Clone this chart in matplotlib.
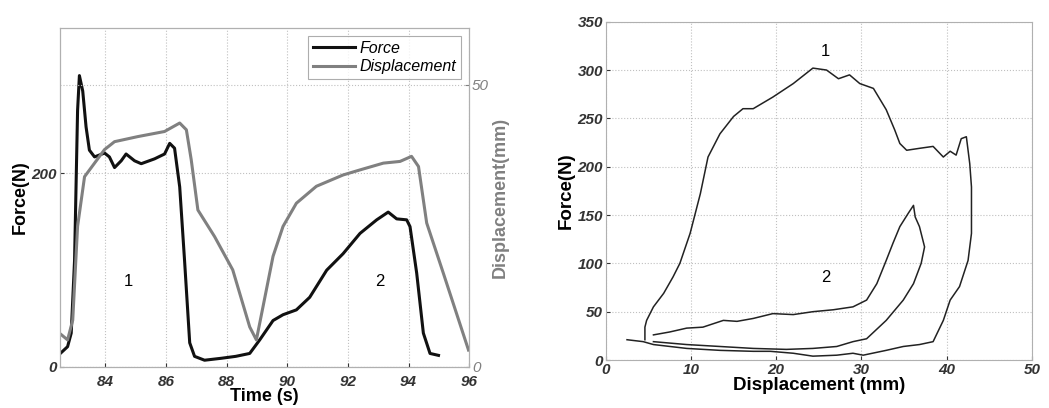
import matplotlib.pyplot as plt

plt.rcParams['font.family'] = ['Liberation Sans', 'DejaVu Sans']

# ---- left panel: force & displacement vs time ----
t_force = [82.51, 82.75, 82.87, 82.98, 83.08, 83.14, 83.25, 83.36, 83.47, 83.64, 83.97,
           84.13, 84.3, 84.52, 84.68, 84.96, 85.18, 85.62, 85.95, 86.12, 86.28,
           86.45, 86.61, 86.78, 86.94, 87.27, 87.82, 88.3, 88.76, 89.09, 89.53,
           89.86, 90.3, 90.74, 91.3, 91.84, 92.4, 92.95, 93.33, 93.61, 93.94, 94.05,
           94.27, 94.49, 94.71, 94.99]
force = [14, 21, 35, 110, 265, 301, 285, 248, 224, 217, 221,
         217, 206, 213, 220, 213, 210, 215, 220, 231, 226,
         186, 110, 25, 11, 7, 9, 11, 14, 28, 48,
         54, 59, 72, 100, 117, 138, 152, 160, 153, 152, 145,
         97, 35, 14, 12]

t_disp = [82.48, 82.75, 82.92, 83.08, 83.31, 83.64, 83.97, 84.3, 85.07, 85.95,
          86.45, 86.67, 86.83, 87.05, 87.6, 88.2, 88.76, 88.98, 89.2, 89.53,
          89.86, 90.3, 90.96, 91.84, 92.4, 93.17, 93.72, 94.1, 94.33, 94.6,
          95.15, 95.98]
disp = [6.0, 4.8, 8.3, 24.9, 33.7, 36.1, 38.5, 39.9, 40.8, 41.7,
        43.2, 42.0, 36.7, 27.8, 23.1, 17.2, 7.1, 4.8, 10.7, 19.6,
        24.9, 29.0, 32.0, 34.0, 34.9, 36.1, 36.4, 37.3, 35.5, 25.5,
        16.6, 3.0]

# ---- right panel: force vs displacement loops ----
d_loop1 = [4.6, 4.6, 4.8, 5.6, 6.8, 7.9, 8.7, 9.9, 11.1, 12.0, 13.4, 15.0, 16.1, 17.3, 19.6,
           22.0, 24.3, 25.9, 27.3, 28.6, 29.8, 31.4, 32.9, 33.9, 34.5, 35.3, 36.8, 38.4,
           39.6, 40.4, 41.1, 41.7, 42.3, 42.7, 42.9, 42.9, 42.5, 41.5, 40.4, 39.6, 38.4,
           36.8, 34.9, 32.9, 30.2, 29.0, 27.1, 24.3, 22.0, 19.3, 17.3, 13.4, 9.5, 5.6,
           4.4, 2.5]
f_loop1 = [21, 34, 41, 55, 69, 86, 100, 131, 172, 210, 234, 252, 260, 260, 272,
           286, 302, 300, 291, 295, 286, 281, 259, 238, 224, 217, 219, 221,
           210, 216, 212, 229, 231, 203, 179, 131, 103, 76, 62, 41, 19,
           16, 14, 10, 5, 7, 5, 4, 7, 9, 9, 10, 12, 16,
           19, 21]

d_loop2 = [5.6, 7.5, 9.5, 11.4, 13.8, 15.4, 17.3, 19.6, 22.0, 24.3, 26.7, 29.0, 30.6,
           31.8, 32.9, 33.7, 34.5, 35.5, 36.1, 36.3, 36.8, 37.4, 37.0, 36.1, 34.9, 32.9,
           30.6, 29.0, 27.1, 24.3, 21.2, 17.3, 13.4, 9.5, 5.6]
f_loop2 = [26, 29, 33, 34, 41, 40, 43, 48, 47, 50, 52, 55, 62,
           79, 103, 121, 138, 152, 160, 148, 138, 117, 100, 79, 62, 41,
           22, 19, 14, 12, 11, 12, 14, 16, 19]

tick_col = '#333333'
spine_col = '#b0b0b0'
grey_line = '#808080'

fig = plt.figure(figsize=(10.49, 4.08), dpi=100)

ax1 = fig.add_axes([0.0572, 0.1005, 0.3900, 0.8305])
ax1.plot(t_force, force, color='#111111', lw=2.2, label='Force')
ax1.plot([], [], color=grey_line, lw=2.2, label='Displacement')
ax1.set_xlim(82.5, 96)
ax1.set_ylim(0, 350)
ax1.set_xticks([84, 86, 88, 90, 92, 94, 96])
ax1.set_yticks([0, 200])
ax1.grid(True, linestyle=':', color='#c0c0c0', lw=0.8)
ax1.set_xlabel('Time (s)', fontsize=13, fontweight='bold', labelpad=-1)
ax1.set_ylabel('Force(N)', fontsize=13, fontweight='bold', labelpad=2)
ax1.text(84.74, 88, '1', fontsize=12, ha='center', va='center')
ax1.text(93.05, 88, '2', fontsize=12, ha='center', va='center')
leg = ax1.legend(loc='upper right', prop={'style': 'italic', 'size': 11.5},
                 fancybox=False, edgecolor='#999999', borderpad=0.3, handlelength=2.6,
                 labelspacing=0.2, handletextpad=0.3, borderaxespad=0.5)
leg.get_frame().set_linewidth(0.8)

ax2 = ax1.twinx()
ax2.plot(t_disp, disp, color=grey_line, lw=2.2)
ax2.set_ylim(0, 60)
ax2.set_yticks([0, 50])
ax2.grid(True, axis='y', linestyle=':', color='#c0c0c0', lw=0.8)
ax2.set_ylabel('Displacement(mm)', fontsize=13, fontweight='bold', color=grey_line, labelpad=2)
ax2.tick_params(axis='y', colors=grey_line, direction='in', length=3, pad=2)
for lab in ax2.get_yticklabels():
    lab.set_fontstyle('italic')
    lab.set_fontsize(11)

ax3 = fig.add_axes([0.5774, 0.1176, 0.4064, 0.8292])
ax3.plot(d_loop1, f_loop1, color='#222222', lw=1.1)
ax3.plot(d_loop2, f_loop2, color='#222222', lw=1.1)
ax3.set_xlim(0, 50)
ax3.set_ylim(0, 350)
ax3.set_xticks(range(0, 51, 10))
ax3.set_yticks(range(0, 351, 50))
ax3.grid(True, linestyle=':', color='#c0c0c0', lw=0.8)
ax3.set_xlabel('Displacement (mm)', fontsize=13.5, fontweight='bold', labelpad=0)
ax3.set_ylabel('Force(N)', fontsize=13.5, fontweight='bold', labelpad=2)
ax3.text(25.8, 319, '1', fontsize=12, ha='center', va='center')
ax3.text(25.8, 85, '2', fontsize=12, ha='center', va='center')

for ax in (ax1, ax3):
    ax.tick_params(direction='in', length=3, colors=tick_col, pad=2)
    for lab in ax.get_xticklabels() + ax.get_yticklabels():
        lab.set_fontstyle('italic')
        lab.set_fontweight('bold')
        lab.set_fontsize(11)
ax1.tick_params(axis='x', pad=6)
for ax in (ax1, ax2, ax3):
    for s in ax.spines.values():
        s.set_color(spine_col)

fig.savefig('out.png', dpi=100)
